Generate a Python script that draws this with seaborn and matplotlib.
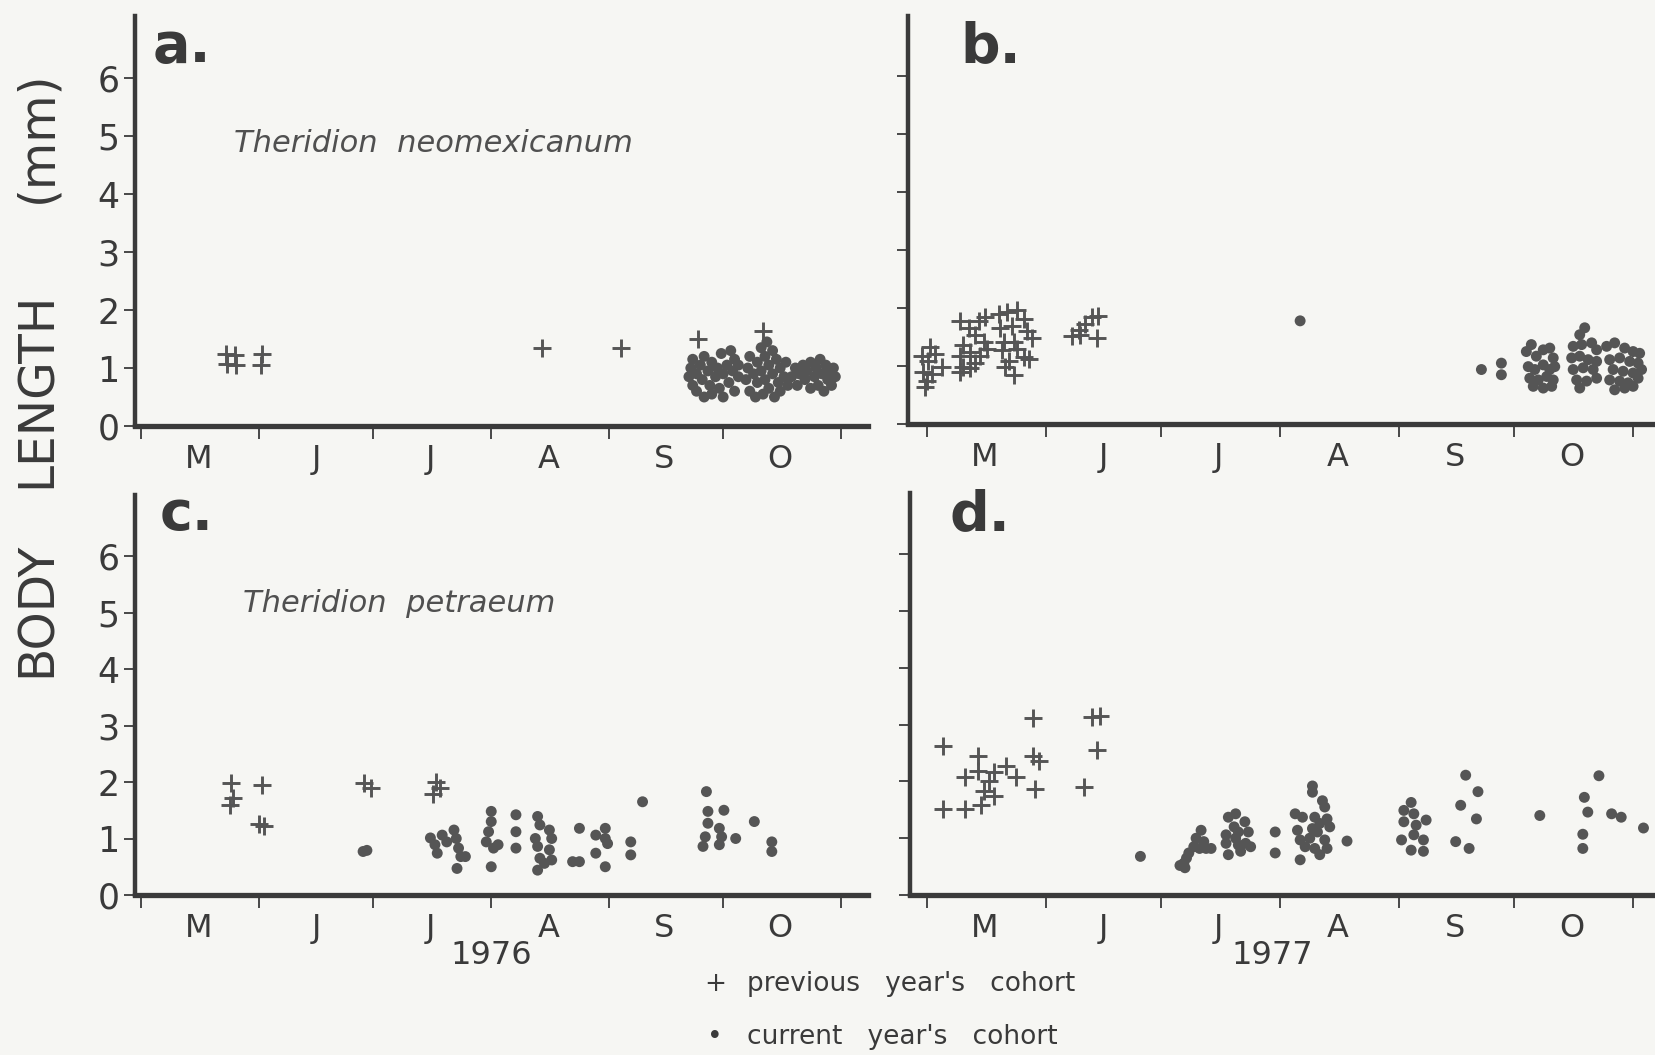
import numpy as np
import pandas as pd
import matplotlib
matplotlib.use("Agg")
import matplotlib.pyplot as plt
import seaborn as sns

# ---------------- data (day of year, body length in mm) ----------------
month_bounds = [121, 152, 182, 213, 244, 274, 305]
month_centers = [136, 167, 197, 228, 258.5, 289]
month_labels = ['M', 'J', 'J', 'A', 'S', 'O']
ytick_vals = [0, 1, 2, 3, 4, 5, 6]

# panel a: T. neomexicanum 1976
a_prev_day = [143.2, 143.4, 145.6, 145.8, 152.7, 152.5, 226.4, 247.2, 267.5, 284.6]
a_prev_len = [1.24, 1.07, 1.22, 1.05, 1.24, 1.05, 1.35, 1.35, 1.50, 1.63]
a_cur_day = [265, 265.5, 266, 266, 267, 267, 268, 268.5, 269, 269, 270, 270.5, 271, 271,
             272, 272.5, 273, 273.5, 274, 274, 275, 275.5, 276, 276.5, 277, 277, 278, 278,
             280, 280.5, 281, 281, 282, 282.5, 283, 283, 284, 284, 284.5, 285, 285, 285.5,
             286, 286, 287, 287, 287.5, 288, 288.5, 289, 289, 290, 290.5, 291,
             292, 293, 293.5, 294, 295, 295.5, 296, 297, 297, 298, 298.5, 299, 299.5, 300,
             300.5, 301, 301.5, 302, 302.5, 303, 303.5]
a_cur_len = [0.85, 1.00, 0.70, 1.15, 0.90, 0.60, 1.05, 0.80, 0.50, 1.20, 0.95, 0.70, 1.10, 0.55,
             0.85, 1.00, 0.65, 1.25, 0.90, 0.50, 1.05, 0.75, 1.30, 0.95, 0.60, 1.15, 0.85, 1.05,
             0.80, 1.00, 0.60, 1.20, 0.90, 0.50, 1.10, 0.75, 1.35, 0.95, 0.55, 1.20, 0.80, 1.45,
             1.05, 0.65, 1.30, 0.90, 0.50, 1.15, 0.75, 1.00, 0.60, 0.85, 1.10, 0.70,
             0.85, 1.00, 0.70, 0.90, 1.05, 0.80, 0.95, 0.65, 1.10, 0.85, 1.00, 0.70, 1.15, 0.90,
             0.60, 1.05, 0.80, 0.95, 0.70, 1.00, 0.85]

# panel b: T. neomexicanum 1977
b_prev_day = [121.9, 119.7, 123.2, 121.4, 124.9, 120.1, 122.3, 121.0, 120.6,
              129.7, 131.9, 134.5, 136.2, 130.5, 133.6, 135.8, 129.7, 132.3, 134.9, 136.6,
              130.5, 133.6, 129.7, 132.3,
              139.7, 141.8, 144.4, 146.2, 140.1, 143.1, 147.0, 141.0, 143.6, 148.3, 140.5,
              144.4, 146.2, 142.3, 147.5, 141.4, 143.6,
              158.8, 160.5, 162.2, 164.0, 165.7, 160.9, 165.3]
b_prev_len = [1.33, 1.18, 1.21, 1.08, 0.99, 0.90, 0.87, 0.75, 0.63,
              1.78, 1.66, 1.78, 1.84, 1.36, 1.54, 1.42, 1.18, 1.24, 1.18, 1.30,
              0.99, 1.05, 0.90, 0.96,
              1.90, 1.93, 1.96, 1.81, 1.66, 1.69, 1.60, 1.42, 1.42, 1.48, 1.27,
              1.30, 1.15, 1.08, 1.12, 0.99, 0.84,
              1.51, 1.63, 1.72, 1.84, 1.87, 1.54, 1.48]
b_cur_day = [218.2, 265.4, 270.6, 270.6,
             277.1, 278.4, 279.7, 281.5, 283.2, 284.1, 277.6, 279.3, 281.5, 283.2, 284.5,
             278.0, 280.2, 282.4, 284.1, 278.9, 281.5, 283.7,
             291.0, 292.3, 289.3, 291.5, 294.1, 295.4, 288.9, 291.0, 293.2, 295.4, 289.3,
             291.9, 294.5, 290.2, 292.8, 295.4, 291.0,
             298.0, 300.1, 302.7, 304.9, 306.6, 298.8, 301.4, 304.0, 306.2, 299.7, 302.3,
             304.9, 307.1, 298.8, 301.4, 303.6, 306.2, 300.1, 302.7, 304.9]
b_cur_len = [1.78, 0.94, 1.05, 0.85,
             1.25, 1.37, 1.17, 1.28, 1.31, 1.14, 0.99, 0.94, 1.02, 0.94, 0.99,
             0.79, 0.76, 0.82, 0.76, 0.65, 0.62, 0.65,
             1.54, 1.66, 1.34, 1.37, 1.40, 1.28, 1.14, 1.17, 1.11, 1.08, 0.94,
             0.97, 0.94, 0.76, 0.74, 0.79, 0.62,
             1.34, 1.40, 1.31, 1.25, 1.22, 1.11, 1.14, 1.08, 1.05, 0.94, 0.91,
             0.88, 0.94, 0.76, 0.74, 0.71, 0.79, 0.59, 0.62, 0.65]

# panel c: T. petraeum 1976
c_prev_day = [144.5, 145.2, 144.2, 152.7, 152.0, 153.2, 179.5, 181.5, 198.5, 199.5, 197.8]
c_prev_len = [1.98, 1.72, 1.60, 1.95, 1.26, 1.22, 1.98, 1.90, 2.00, 1.90, 1.78]
c_cur_day = [179.3, 180.3,
             197.0, 198.2, 198.8, 200.1, 201.3, 203.2, 203.8, 204.4, 205.0, 206.2, 204.0,
             213.0, 213.0, 212.3, 211.7, 213.6, 214.8, 213.0,
             219.5, 219.5, 219.5,
             225.2, 225.8, 228.3, 224.6, 228.9, 225.2, 228.3, 225.8, 228.9, 225.2, 227.0,
             236.2, 234.4, 236.2,
             243.0, 240.5, 243.0, 243.6, 240.5, 243.0,
             249.7, 249.7, 252.8,
             269.6, 270.0, 274.2, 270.0, 273.0, 269.3, 273.6, 268.7, 273.0,
             277.3, 282.2, 286.8, 286.8]
c_cur_len = [0.77, 0.79,
             1.01, 0.89, 0.74, 1.06, 0.94, 1.15, 1.00, 0.83, 0.68, 0.68, 0.47,
             1.48, 1.30, 1.12, 0.94, 0.83, 0.89, 0.50,
             1.42, 1.12, 0.83,
             1.39, 1.24, 1.15, 1.00, 1.00, 0.86, 0.80, 0.65, 0.62, 0.44, 0.56,
             1.18, 0.59, 0.59,
             1.18, 1.06, 1.00, 0.91, 0.74, 0.50,
             0.94, 0.71, 1.65,
             1.83, 1.48, 1.50, 1.27, 1.18, 1.03, 1.03, 0.86, 0.89,
             1.00, 1.30, 0.94, 0.77]

# panel d: T. petraeum 1977
d_prev_day = [125.2, 125.2, 130.9, 135.2, 130.9, 134.3, 134.3, 135.8, 137.3, 138.6, 138.6,
              141.6, 144.2, 148.7, 148.7, 150.2, 149.1, 161.9, 164.1, 166.0, 165.4]
d_prev_len = [2.62, 1.52, 1.52, 1.58, 2.07, 2.45, 2.19, 1.84, 2.01, 1.75, 2.17,
              2.27, 2.07, 3.11, 2.45, 2.36, 1.87, 1.90, 3.14, 3.15, 2.56]
d_cur_day = [176.6,
             186.9, 187.9, 188.6, 189.2, 190.5, 191.1, 192.4, 193.1, 192.0, 193.7, 195.0, 188.2,
             199.5, 201.4, 203.8, 204.7, 202.1, 198.9, 201.4, 204.0, 198.9, 202.1, 202.7, 199.5,
             205.3, 201.0,
             211.7, 211.7,
             221.4, 221.4, 216.9, 218.8, 222.0, 224.0, 224.6, 225.2, 225.9, 217.5, 221.4, 222.7,
             218.2, 219.5, 224.6, 222.0, 225.2, 223.3, 218.2, 220.7, 223.3,
             230.4,
             247.1, 245.2, 247.8, 245.2, 248.4, 251.0, 247.8, 244.6, 250.3, 247.1, 250.3,
             261.3, 264.5, 260.0, 264.1, 258.7, 262.2,
             280.6,
             296.0, 292.2, 293.1, 299.3, 301.8, 291.8, 291.8,
             307.6]
d_cur_len = [0.68,
             0.52, 0.56, 0.65, 0.74, 0.85, 1.00, 1.14, 0.94, 0.82, 0.82, 0.82, 0.48,
             1.37, 1.43, 1.29, 1.11, 1.11, 1.06, 1.00, 0.91, 0.91, 0.88, 0.77, 0.71,
             0.85, 1.20,
             1.11, 0.74,
             1.92, 1.81, 1.43, 1.37, 1.37, 1.66, 1.55, 1.34, 1.20, 1.14, 1.17, 1.11,
             0.97, 0.85, 0.97, 0.82, 0.82, 0.71, 0.62, 1.00, 1.26,
             0.95,
             1.63, 1.49, 1.43, 1.29, 1.23, 1.32, 1.06, 0.97, 0.97, 0.79, 0.77,
             2.11, 1.82, 1.58, 1.34, 0.94, 0.82,
             1.40,
             2.10, 1.72, 1.46, 1.43, 1.37, 1.07, 0.82,
             1.18]

# ---------------- style ----------------
sns.set_style("ticks")
plt.rcParams['font.family'] = ['DejaVu Sans']

BG = '#f6f6f3'
INK = '#3a3a3a'
MARK = '#555555'
W, H = 1655, 1055

fig = plt.figure(figsize=(W / 100, H / 100), dpi=100, facecolor=BG)


def add_ax(left, top, right, bottom):
    return fig.add_axes([left / W, 1 - bottom / H, (right - left) / W, (bottom - top) / H])


def draw(ax, prev_d, prev_l, cur_d, cur_l, xlim, ylim, ylabels):
    dfc = pd.DataFrame({'day': cur_d, 'length': cur_l})
    dfp = pd.DataFrame({'day': prev_d, 'length': prev_l})
    sns.scatterplot(data=dfc, x='day', y='length', ax=ax, marker='o', s=62,
                    color=MARK, edgecolor='none', linewidth=0, zorder=3, clip_on=False)
    sns.scatterplot(data=dfp, x='day', y='length', ax=ax, marker='+', s=150,
                    color=MARK, edgecolor=None, linewidth=2.1, zorder=4, clip_on=False)
    ax.set_xlim(*xlim)
    ax.set_ylim(*ylim)
    ax.set_xlabel('')
    ax.set_ylabel('')
    ax.set_facecolor('none')
    ax.set_xticks(month_centers)
    ax.set_xticklabels(month_labels)
    ax.set_xticks(month_bounds, minor=True)
    ax.tick_params(axis='x', which='major', length=0, pad=13, labelsize=23, labelcolor=INK)
    ax.tick_params(axis='x', which='minor', length=9, width=1.3, color=INK, direction='out')
    ax.set_yticks(ytick_vals)
    if ylabels:
        ax.set_yticklabels([str(v) for v in ytick_vals])
    else:
        ax.set_yticklabels([])
    ax.tick_params(axis='y', length=8, width=1.3, color=INK, labelsize=25, pad=3,
                   labelcolor=INK, direction='out')
    for s in ['top', 'right']:
        ax.spines[s].set_visible(False)
    ax.spines['left'].set_linewidth(3.2)
    ax.spines['bottom'].set_linewidth(3.8)
    ax.spines['left'].set_color(INK)
    ax.spines['bottom'].set_color(INK)


ax_a = add_ax(135, 16, 868, 426)
ax_b = add_ax(908, 16, 1655, 424)
ax_c = add_ax(135, 495, 868, 895)
ax_d = add_ax(910, 493, 1655, 895)

draw(ax_a, a_prev_day, a_prev_len, a_cur_day, a_cur_len, (119.3, 312.1), (0, 7.07), True)
draw(ax_b, b_prev_day, b_prev_len, b_cur_day, b_cur_len, (116.1, 310.6), (0, 7.04), False)
draw(ax_c, c_prev_day, c_prev_len, c_cur_day, c_cur_len, (119.3, 312.1), (0, 7.08), True)
draw(ax_d, d_prev_day, d_prev_len, d_cur_day, d_cur_len, (116.6, 310.6), (0, 7.08), False)

# panel letters
for txt, x, y in [('a.', 153, 62), ('b.', 960, 62), ('c.', 160, 530), ('d.', 950, 530)]:
    fig.text(x / W, 1 - y / H, txt, fontsize=40, fontweight='bold', color=INK, va='baseline')

fig.text(234 / W, 1 - 143.5 / H, 'Theridion  neomexicanum', style='italic', fontsize=22,
         color='#505050', va='center')
fig.text(243 / W, 1 - 604 / H, 'Theridion  petraeum', style='italic', fontsize=22,
         color='#505050', va='center')

fig.text(491 / W, 1 - 955 / H, '1976', ha='center', va='center', fontsize=23, color=INK)
fig.text(1272 / W, 1 - 955 / H, '1977', ha='center', va='center', fontsize=23, color=INK)

fig.text(715 / W, 1 - 984 / H, '+', ha='center', va='center', fontsize=19, color=INK)
fig.text(747 / W, 1 - 984 / H, "previous   year's   cohort", va='center', fontsize=19, color=INK)
fig.text(715 / W, 1 - 1037 / H, '•', ha='center', va='center', fontsize=19, color=INK)
fig.text(747 / W, 1 - 1037 / H, "current   year's   cohort", va='center', fontsize=19, color=INK)

# rotated axis title, word by word as in the original lettering
for word, yc in [('BODY', 609), ('LENGTH', 390), ('(mm)', 137)]:
    fig.text(37 / W, 1 - yc / H, word, rotation=90, ha='center', va='center',
             fontsize=35, color=INK)

fig.savefig('out.png', dpi=100, facecolor=BG)
